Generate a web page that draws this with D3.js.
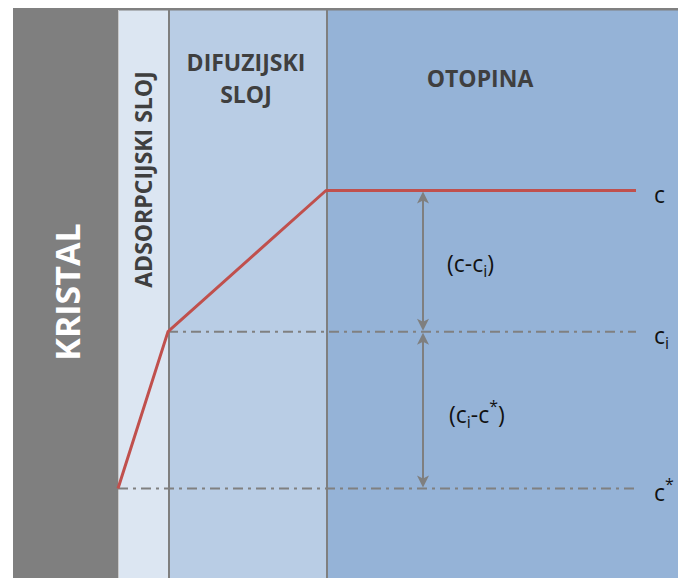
<!DOCTYPE html>
<html><head><meta charset="utf-8">
<script src="https://cdn.jsdelivr.net/npm/d3@7"></script>
<style>html,body{margin:0;padding:0;background:#fff;}svg{display:block;}</style>
</head><body>
<script>
// Regions (distance units from crystal surface)
const regionNames = ["KRISTAL", "ADSORPCIJSKI SLOJ", "DIFUZIJSKI SLOJ", "OTOPINA"];
const regionStart = [0, 105, 155, 313];
const regionEnd   = [105, 155, 313, 665];
const regionColors = ["#7f7f7f", "#dce6f2", "#b9cde5", "#95b3d7"];

// Concentration profile
const profileX = [105, 155, 313, 623];
const profileC = [0, 1, 1.9, 1.9];

// Reference levels
const levelNames = ["c", "ci", "c*"];
const levelValues = [1.9, 1, 0];
const levelStartX = [313, 155, 105];
const levelEndX = 623;

// Difference arrows
const arrowX = 410;
const arrowFrom = [1.9, 1];
const arrowTo = [1, 0];

(function () {
const W = 678, H = 578;
const svg = d3.select("body").append("svg").attr("width", W).attr("height", H);

const x = d3.scaleLinear().domain([0, 665]).range([13, 678]);
const y = d3.scaleLinear().domain([0, 1.9]).range([488.5, 190.5]);
const topY = 10;

// regions
svg.selectAll("rect.region").data(regionNames).enter().append("rect")
  .attr("class", "region")
  .attr("x", (d, i) => x(regionStart[i]))
  .attr("y", topY)
  .attr("width", (d, i) => x(regionEnd[i]) - x(regionStart[i]))
  .attr("height", H - topY)
  .attr("fill", (d, i) => regionColors[i]);

// top border
svg.append("rect").attr("x", x(0)).attr("y", 8).attr("width", W - x(0)).attr("height", 2.5).attr("fill", "#808080");

// dividers
svg.append("line").attr("x1", x(105) + 0.5).attr("x2", x(105) + 0.5).attr("y1", topY).attr("y2", H)
  .attr("stroke", "#c9c9c9").attr("stroke-width", 1);
[155, 313].forEach(v => {
  svg.append("line").attr("x1", x(v) + 1).attr("x2", x(v) + 1).attr("y1", topY).attr("y2", H)
    .attr("stroke", "#7f7f7f").attr("stroke-width", 2);
});

// dash-dot level lines (ci and c*)
levelNames.forEach((n, i) => {
  if (i === 0) return;
  svg.append("line")
    .attr("x1", x(levelStartX[i])).attr("x2", x(levelEndX))
    .attr("y1", y(levelValues[i])).attr("y2", y(levelValues[i]))
    .attr("stroke", "#808080").attr("stroke-width", 2)
    .attr("stroke-dasharray", "10,5,3,5");
});

// concentration profile
const line = d3.line().x(d => x(d[0])).y(d => y(d[1]));
svg.append("path")
  .datum(profileX.map((v, i) => [v, profileC[i]]))
  .attr("d", line)
  .attr("fill", "none")
  .attr("stroke", "#c0504d")
  .attr("stroke-width", 3)
  .attr("stroke-linejoin", "round");

// arrows
function head(xp, yp, dir) {
  const L = 12, w = 6, notch = 3;
  const p = [[xp, yp], [xp - w, yp - dir * L], [xp, yp - dir * (L - notch)], [xp + w, yp - dir * L]];
  svg.append("path").attr("d", "M" + p.map(q => q.join(",")).join("L") + "Z").attr("fill", "#7f7f7f");
}
arrowFrom.forEach((a, i) => {
  const y1 = y(a), y2 = y(arrowTo[i]);
  svg.append("line").attr("x1", x(arrowX)).attr("x2", x(arrowX))
    .attr("y1", y1 + 6).attr("y2", y2 - 6)
    .attr("stroke", "#7f7f7f").attr("stroke-width", 2);
  head(x(arrowX), y1 + 1, -1);
  head(x(arrowX), y2 - 1, 1);
});

// region titles
const font = "'Open Sans', 'DejaVu Sans', sans-serif";
svg.append("text").attr("transform", `translate(80,292) rotate(-90)`)
  .attr("text-anchor", "middle").attr("font-family", font).attr("font-weight", 700)
  .attr("font-size", 34).attr("fill", "#ffffff").text(regionNames[0]);
svg.append("text").attr("transform", `translate(152,179.5) rotate(-90)`)
  .attr("text-anchor", "middle").attr("font-family", font).attr("font-weight", 700)
  .attr("font-size", 23).attr("fill", "#3f3f3f").text(regionNames[1]);
const difWords = regionNames[2].split(" ");
svg.append("text").attr("x", 246).attr("y", 71)
  .attr("text-anchor", "middle").attr("font-family", font).attr("font-weight", 700)
  .attr("font-size", 23).attr("fill", "#3f3f3f").text(difWords[0]);
svg.append("text").attr("x", 246).attr("y", 103)
  .attr("text-anchor", "middle").attr("font-family", font).attr("font-weight", 700)
  .attr("font-size", 23).attr("fill", "#3f3f3f").text(difWords[1]);
svg.append("text").attr("x", 480).attr("y", 87)
  .attr("text-anchor", "middle").attr("font-family", font).attr("font-weight", 700)
  .attr("font-size", 23).attr("fill", "#3f3f3f").text(regionNames[3]);

// level labels
const lf = 23;
function label(xp, yp) {
  return svg.append("text").attr("x", xp).attr("y", yp)
    .attr("font-family", font).attr("font-size", lf).attr("fill", "#111");
}
label(654, y(levelValues[0]) + 12).text("c");
const ci = label(654, y(levelValues[1]) + 12);
ci.append("tspan").text("c");
ci.append("tspan").attr("dy", 5).attr("font-size", 16).text("i");
const cs = label(654, y(levelValues[2]) + 12);
cs.append("tspan").text("c");
cs.append("tspan").attr("dy", -11).attr("font-size", 16).text("*");

// difference labels
const d1 = label(447, (y(arrowFrom[0]) + y(arrowTo[0])) / 2 + 11);
d1.append("tspan").text("(c-c");
d1.append("tspan").attr("dy", 5).attr("font-size", 16).text("i");
d1.append("tspan").attr("dy", -5).text(")");
const d2 = label(449, (y(arrowFrom[1]) + y(arrowTo[1])) / 2 + 13);
d2.append("tspan").text("(c");
d2.append("tspan").attr("dy", 5).attr("font-size", 16).text("i");
d2.append("tspan").attr("dy", -5).text("-c");
d2.append("tspan").attr("dy", -11).attr("font-size", 16).text("*");
d2.append("tspan").attr("dy", 11).text(")");
})();
</script>
</body></html>
